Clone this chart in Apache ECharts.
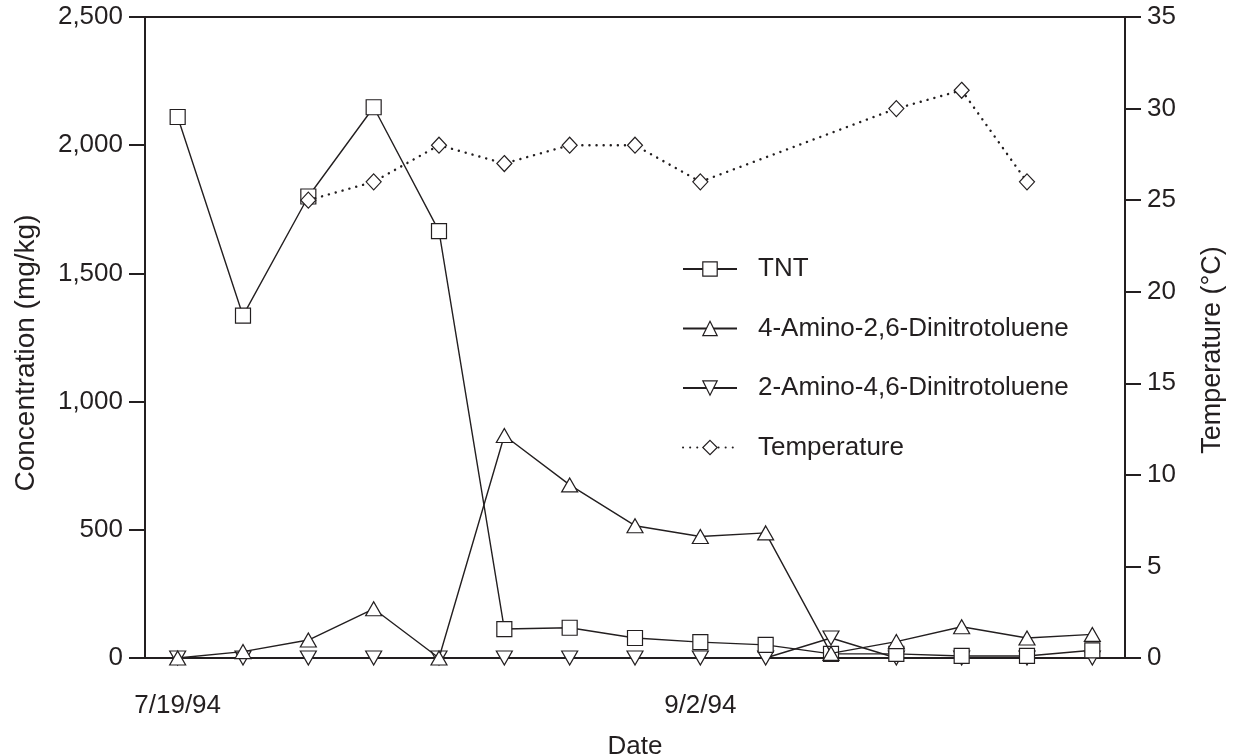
<!DOCTYPE html>
<html>
<head>
<meta charset="utf-8">
<script src="https://cdn.jsdelivr.net/npm/echarts@6/dist/echarts.min.js"></script>
<style>
  html, body { margin: 0; padding: 0; background: #fff; }
  #chart { width: 1239px; height: 756px; }
</style>
</head>
<body>
<div id="chart"></div>
<script>
// Sampling dates (only two are labelled on the axis)
const dateLabels = ['7/19/94', '', '', '', '', '', '', '', '9/2/94', '', '', '', '', '', ''];

// Concentrations in mg/kg
const tnt      = [2110, 1335, 1800, 2148, 1665, 113, 118, 78, 62, 51, 16, 16, 8, 8, 30];
const amino4   = [0, 25, 70, 192, 0, 868, 675, 516, 474, 488, 18, 64, 122, 78, 92];
const amino2   = [0, 0, 0, 0, 0, 0, 0, 0, 0, 0, 78, 0, 0, 0, 0];

// Soil temperature in °C
const temperature = [null, null, 25, 26, 28, 27, 28, 28, 26, null, null, 30, 31, 26, null];

const ink = '#231f20';
const font = '"Liberation Sans", Arial, Helvetica, sans-serif';
const fs = 26;

const chart = echarts.init(document.getElementById('chart'), null, { renderer: 'canvas' });

const markerStyle = { color: '#fff', borderColor: ink, borderWidth: 1.2 };
const lineStyle = { color: ink, width: 1.4 };

// Rotated titles for the two value axes
const axisTitle = (text, x, y, size) => ({
  type: 'text', x, y, rotation: Math.PI / 2, silent: true,
  style: {
    text, fill: ink, font: `${size}px ${font}`,
    textAlign: 'center', textVerticalAlign: 'middle'
  }
});

chart.setOption({
  animation: false,
  backgroundColor: '#fff',
  textStyle: { fontFamily: font, color: ink },
  grid: {
    left: 145, right: 114, top: 17, bottom: 98,
    outerBoundsMode: 'none',
    containLabel: false,
    show: true, borderColor: ink, borderWidth: 2, backgroundColor: 'transparent'
  },
  graphic: [
    axisTitle('Concentration (mg/kg)', 26, 353, 28),
    axisTitle('Temperature (°C)', 1213, 350, 27)
  ],
  legend: {
    orient: 'vertical',
    left: 677, top: 251,
    itemWidth: 54, itemHeight: 18, itemGap: 33.5,
    itemStyle: { borderWidth: 1.2 },
    textStyle: { fontSize: fs, color: ink, fontFamily: font, padding: [0, 0, 0, 16] },
    data: ['TNT', '4-Amino-2,6-Dinitrotoluene', '2-Amino-4,6-Dinitrotoluene', 'Temperature']
  },
  xAxis: {
    type: 'category',
    data: dateLabels,
    boundaryGap: true,
    name: 'Date',
    nameLocation: 'middle',
    nameGap: 76,
    nameTextStyle: { fontSize: fs, color: ink, fontFamily: font },
    axisLine: { lineStyle: { color: ink, width: 2 } },
    axisTick: {
      alignWithLabel: true, length: 20,
      interval: (i, v) => v !== '',
      lineStyle: { color: ink, width: 2 }
    },
    axisLabel: {
      interval: (i, v) => v !== '',
      margin: 35, fontSize: fs, color: ink, fontFamily: font
    },
    splitLine: { show: false }
  },
  yAxis: [
    {
      type: 'value',
      min: 0, max: 2500, interval: 500,
      axisLine: { show: true, lineStyle: { color: ink, width: 2 } },
      axisTick: { show: true, length: 16, lineStyle: { color: ink, width: 2 } },
      axisLabel: {
        margin: 22, fontSize: fs, color: ink, fontFamily: font,
        formatter: v => v.toLocaleString('en-US')
      },
      splitLine: { show: false }
    },
    {
      type: 'value',
      min: 0, max: 35, interval: 5,
      axisLine: { show: true, lineStyle: { color: ink, width: 2 } },
      axisTick: { show: true, length: 16, lineStyle: { color: ink, width: 2 } },
      axisLabel: { margin: 22, fontSize: fs, color: ink, fontFamily: font },
      splitLine: { show: false }
    }
  ],
  series: [
    {
      name: 'TNT', type: 'line', yAxisIndex: 0, data: tnt,
      symbol: 'rect', symbolSize: 15, showAllSymbol: true,
      itemStyle: markerStyle, lineStyle: lineStyle, z: 3
    },
    {
      name: '4-Amino-2,6-Dinitrotoluene', type: 'line', yAxisIndex: 0, data: amino4,
      symbol: 'triangle', symbolSize: [16, 14], showAllSymbol: true,
      itemStyle: markerStyle, lineStyle: lineStyle, z: 4
    },
    {
      name: '2-Amino-4,6-Dinitrotoluene', type: 'line', yAxisIndex: 0, data: amino2,
      symbol: 'path://M0,0L16,0L8,14Z', symbolSize: [16, 14], showAllSymbol: true,
      itemStyle: markerStyle, lineStyle: lineStyle, z: 2
    },
    {
      name: 'Temperature', type: 'line', yAxisIndex: 1, data: temperature,
      connectNulls: true,
      symbol: 'diamond', symbolSize: [15, 16], showAllSymbol: true,
      itemStyle: markerStyle,
      lineStyle: { color: ink, width: 2.4, type: [0.1, 7], cap: 'round' },
      z: 5
    }
  ]
});
</script>
</body>
</html>
